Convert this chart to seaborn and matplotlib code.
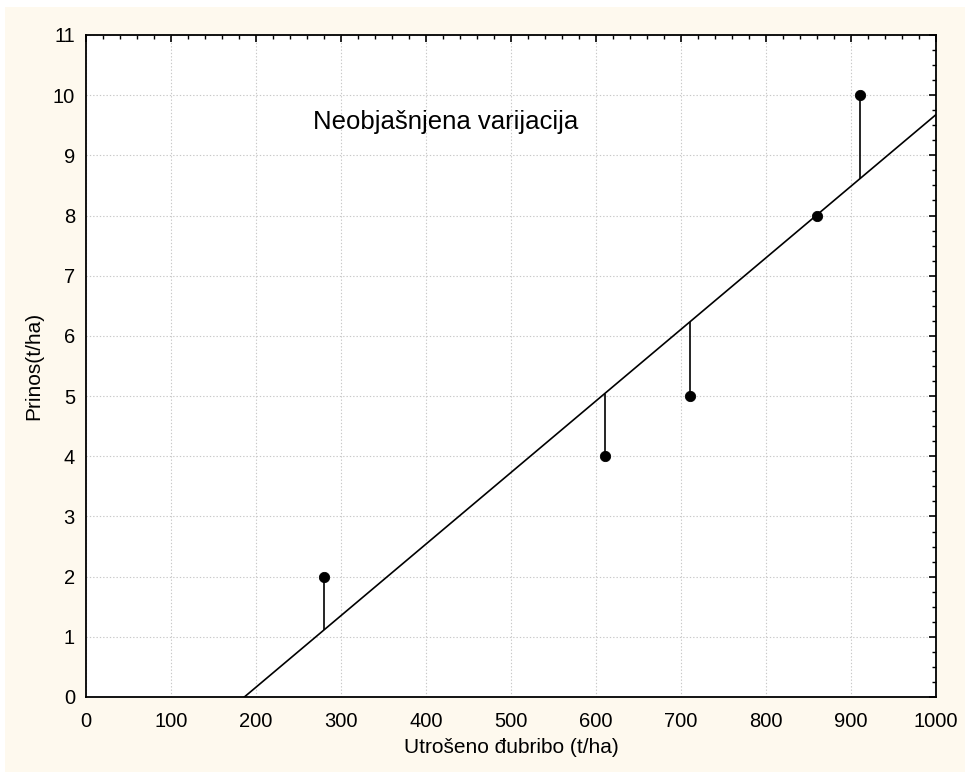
import numpy as np
import pandas as pd
import matplotlib
matplotlib.use("Agg")
import matplotlib.pyplot as plt
import seaborn as sns
from matplotlib.patches import Rectangle
from matplotlib.ticker import MultipleLocator

# Data
fertilizer = [280, 610, 710, 860, 910]   # Utrošeno đubribo (t/ha)
yield_t = [2, 4, 5, 8, 10]               # Prinos (t/ha)
x_ticks = [0, 100, 200, 300, 400, 500, 600, 700, 800, 900, 1000]
y_ticks = [0, 1, 2, 3, 4, 5, 6, 7, 8, 9, 10, 11]
annotation = "Neobjašnjena varijacija"

df = pd.DataFrame({"x": fertilizer, "y": yield_t})

sns.set_style("white")
plt.rcParams['font.family'] = ['Liberation Sans', 'DejaVu Sans']
plt.rcParams['text.color'] = 'black'
plt.rcParams['axes.labelcolor'] = 'black'
plt.rcParams['xtick.color'] = 'black'
plt.rcParams['ytick.color'] = 'black'

fig = plt.figure(figsize=(9.65, 7.72), dpi=100)
fig.patch.set_facecolor("white")
fig.patches.append(Rectangle((5/965, 0), 1, 1 - 7/772, transform=fig.transFigure,
                             facecolor="#FEF9EE", edgecolor="none", zorder=-10))

ax = fig.add_axes([86/965, 1 - 697/772, (936-86)/965, (697-35)/772])
ax.set_facecolor("white")
ax.set_xlim(x_ticks[0], x_ticks[-1])
ax.set_ylim(y_ticks[0], y_ticks[-1])

# regression line over full x range
sns.regplot(data=df, x="x", y="y", ax=ax, ci=None, truncate=False, scatter=False,
            line_kws=dict(color="black", lw=1.2, zorder=3))

# residuals
slope, intercept = np.polyfit(df["x"], df["y"], 1)
pred = slope * df["x"] + intercept
ax.vlines(df["x"], df["y"], pred, color="black", lw=1.2, zorder=3)

sns.scatterplot(data=df, x="x", y="y", ax=ax, color="black", s=55,
                edgecolor="black", zorder=4)

ax.set_xlim(x_ticks[0], x_ticks[-1])
ax.set_ylim(y_ticks[0], y_ticks[-1])
ax.set_xticks(x_ticks)
ax.set_yticks(y_ticks)
ax.xaxis.set_minor_locator(MultipleLocator(20))
ax.yaxis.set_minor_locator(MultipleLocator(0.25))
ax.tick_params(which="both", direction="in", top=True, right=True, color="black",
               labelcolor="black")
ax.tick_params(which="major", length=5, width=1.2, labelsize=14.5)
ax.tick_params(axis="x", which="major", pad=11)
ax.tick_params(axis="y", which="major", pad=8)
ax.tick_params(which="minor", length=3, width=1)
ax.grid(True, which="major", linestyle=(0, (1.2, 1.8)), color="#c8c8c8", lw=0.8)
ax.set_axisbelow(True)
for s in ax.spines.values():
    s.set_color("black")
    s.set_linewidth(1.3)

ax.set_xlabel("Utrošeno đubribo (t/ha)", fontsize=15, labelpad=5, color="black")
ax.set_ylabel("Prinos(t/ha)", fontsize=15, labelpad=7, color="black")

ax.text(267, 9.44, annotation, fontsize=18.5, ha="left", va="baseline", color="black")

fig.savefig("out.png", dpi=100, facecolor=fig.get_facecolor())
